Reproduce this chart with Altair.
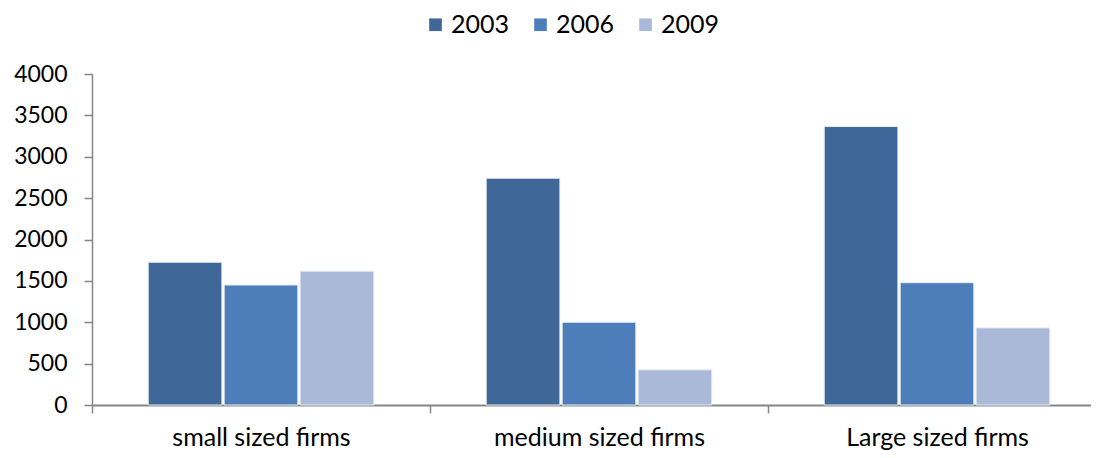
import altair as alt
import pandas as pd

categories = ["small sized firms", "medium sized firms", "Large sized firms"]
years = ["2003", "2006", "2009"]
values_2003 = [1725, 2740, 3365]
values_2006 = [1450, 1000, 1478]
values_2009 = [1617, 425, 932]
colors = ["#3F6797", "#4D7EBA", "#A9B9D7"]

rows = []
for yr, vals in zip(years, [values_2003, values_2006, values_2009]):
    for c, v in zip(categories, vals):
        rows.append({"category": c, "year": yr, "value": v})
df = pd.DataFrame(rows)

FONT = "Lato"

chart = alt.Chart(df).mark_bar(stroke="#E6ECF5", strokeWidth=1).encode(
    x=alt.X("category:N", sort=categories, title=None,
            scale=alt.Scale(paddingInner=0, paddingOuter=0, range=[0, 1014]),
            axis=alt.Axis(labelAngle=0, labelFontSize=25, labelFont=FONT, labelColor="#000000",
                          labelLimit=0, tickBand="extent", tickSize=8, tickColor="#868686",
                          tickWidth=1.5, domainColor="#868686", domainWidth=2, labelPadding=12)),
    xOffset=alt.XOffset("year:N", sort=years,
                        scale=alt.Scale(paddingInner=0.03, paddingOuter=0.74)),
    y=alt.Y("value:Q", title=None,
            scale=alt.Scale(domain=[0, 4000], nice=False),
            axis=alt.Axis(values=[0, 500, 1000, 1500, 2000, 2500, 3000, 3500, 4000],
                          format="d", grid=False, labelFontSize=23, labelFont=FONT,
                          labelColor="#000000", tickSize=8, tickColor="#868686", tickWidth=1.5,
                          domainColor="#868686", domainWidth=1.5, labelPadding=17)),
    color=alt.Color("year:N", sort=years, title=None,
                    scale=alt.Scale(domain=years, range=colors),
                    legend=alt.Legend(orient="none", legendX=331, legendY=-62, direction="horizontal",
                                      symbolType="square", symbolSize=160, symbolStrokeWidth=0,
                                      labelFontSize=25, labelFont=FONT, labelColor="#000000",
                                      labelLimit=0, columnPadding=18, labelOffset=3)),
).properties(
    width=999, height=331,
    autosize=alt.AutoSizeParams(type="none"),
    padding={"left": 84, "top": 66, "right": 0, "bottom": 45},
).configure(background="#FFFFFF").configure_view(stroke=None)

chart.save("out.html", embed_options={"renderer": "svg", "actions": False})
